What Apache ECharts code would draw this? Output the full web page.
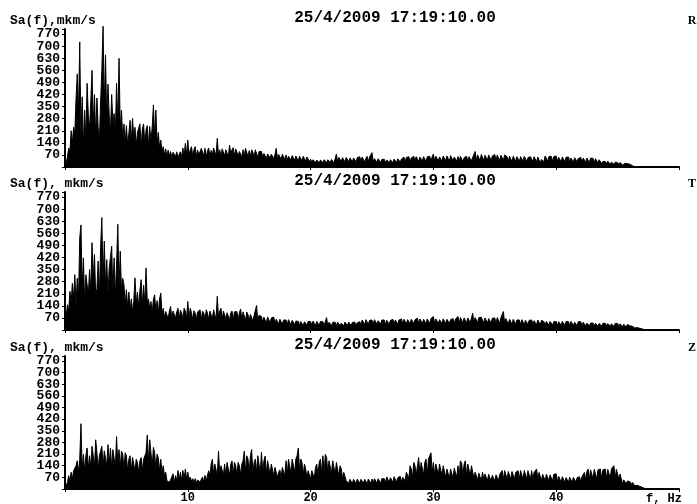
<!DOCTYPE html>
<html>
<head>
<meta charset="utf-8">
<script src="https://cdn.jsdelivr.net/npm/echarts@6.0.0/dist/echarts.min.js"></script>
<style>
  html, body { margin: 0; padding: 0; background: #fff; }
  #chart { width: 697px; height: 504px; }
</style>
</head>
<body>
<div id="chart"></div>
<script>
// шаг по частоте, Гц
const freqStep = 0.1;
const channels = ['R', 'T', 'Z'];
const dateLabel = '25/4/2009 17:19:10.00';
const yTickLabels = [70, 140, 210, 280, 350, 420, 490, 560, 630, 700, 770];
const xTickLabels = [10, 20, 30, 40];

// амплитудные спектры, mkm/s, через 0.1 Гц (строка = 1 Гц)
const rValues = [
  0, 20, 60, 110, 90, 210, 140, 230, 200, 400,
  540, 300, 725, 180, 407, 120, 330, 160, 485, 300,
  220, 380, 560, 250, 420, 180, 400, 230, 150, 380,
  560, 816, 350, 650, 260, 480, 300, 200, 420, 260,
  310, 200, 485, 250, 630, 220, 330, 160, 250, 140,
  240, 130, 195, 270, 150, 282, 170, 230, 120, 200,
  200, 250, 120, 220, 250, 130, 215, 240, 120, 235,
  150, 230, 360, 170, 330, 140, 200, 110, 156, 90,
  118, 70, 105, 60, 98, 65, 90, 55, 85, 95,
  60, 88, 50, 75, 88, 60, 110, 65, 137, 70,
  156, 70, 100, 118, 65, 100, 118, 60, 98, 70,
  62, 108, 100, 65, 108, 60, 92, 110, 60, 96,
  70, 110, 118, 65, 166, 70, 100, 60, 105, 110,
  65, 100, 105, 60, 127, 75, 100, 112, 65, 105,
  108, 65, 90, 98, 60, 100, 62, 108, 98, 60,
  95, 60, 100, 85, 58, 100, 96, 55, 90, 92,
  90, 55, 78, 86, 50, 76, 86, 52, 74, 82,
  50, 72, 108, 48, 72, 68, 45, 74, 72, 42,
  70, 40, 62, 72, 40, 66, 68, 38, 64, 58,
  36, 62, 55, 35, 62, 52, 34, 58, 60, 32,
  45, 28, 42, 46, 26, 40, 45, 25, 40, 48,
  26, 42, 44, 25, 42, 46, 26, 44, 45, 24,
  48, 75, 30, 55, 60, 32, 54, 58, 30, 55,
  62, 30, 52, 60, 32, 52, 62, 30, 54, 58,
  60, 32, 58, 52, 30, 50, 62, 30, 58, 54,
  83, 30, 48, 52, 28, 48, 42, 26, 44, 40,
  45, 25, 40, 48, 26, 42, 40, 25, 46, 42,
  26, 48, 50, 28, 46, 52, 58, 30, 55, 52,
  60, 32, 52, 58, 62, 34, 60, 54, 32, 58,
  52, 34, 60, 54, 32, 60, 58, 62, 34, 60,
  75, 35, 62, 65, 36, 58, 68, 34, 64, 58,
  36, 64, 58, 34, 66, 60, 36, 58, 64, 34,
  60, 34, 62, 58, 32, 54, 58, 62, 34, 60,
  62, 36, 56, 64, 90, 38, 70, 64, 36, 72,
  70, 38, 68, 75, 40, 70, 68, 38, 64, 70,
  72, 38, 70, 66, 36, 68, 64, 38, 70, 62,
  60, 34, 62, 56, 32, 62, 58, 34, 60, 56,
  32, 60, 55, 34, 62, 56, 32, 54, 56, 60,
  58, 32, 60, 52, 30, 58, 54, 25, 44, 52,
  30, 64, 58, 32, 60, 58, 62, 32, 60, 58,
  64, 32, 56, 60, 30, 58, 55, 30, 56, 54,
  58, 30, 52, 56, 28, 54, 52, 30, 50, 52,
  55, 28, 52, 54, 28, 52, 50, 26, 52, 46,
  50, 26, 48, 44, 24, 42, 35, 20, 32, 34,
  32, 18, 34, 28, 16, 28, 26, 16, 28, 26,
  26, 14, 26, 22, 12, 22, 20, 12, 20, 18,
  16, 8, 8, 4, 0
];

const tValues = [
  0, 80, 146, 110, 224, 160, 270, 180, 321, 150,
  300, 180, 535, 609, 250, 418, 160, 320, 263, 200,
  350, 220, 506, 300, 438, 200, 240, 400, 200, 480,
  652, 280, 515, 250, 408, 200, 360, 420, 486, 220,
  418, 200, 380, 613, 250, 457, 220, 300, 263, 150,
  233, 130, 220, 120, 180, 110, 165, 302, 150, 220,
  130, 230, 292, 140, 260, 150, 360, 160, 180, 120,
  165, 100, 180, 204, 110, 170, 100, 180, 214, 90,
  126, 70, 107, 115, 65, 110, 136, 65, 110, 120,
  70, 105, 126, 65, 115, 100, 60, 126, 110, 70,
  165, 70, 126, 100, 60, 112, 98, 62, 105, 100,
  117, 60, 110, 98, 62, 117, 100, 60, 110, 105,
  65, 117, 110, 60, 195, 70, 110, 126, 62, 110,
  117, 65, 100, 110, 60, 98, 110, 62, 105, 110,
  107, 60, 100, 122, 58, 105, 95, 55, 104, 90,
  55, 90, 96, 52, 85, 90, 142, 50, 85, 80,
  78, 45, 74, 72, 42, 76, 80, 40, 70, 68,
  75, 38, 62, 58, 36, 62, 56, 34, 58, 62,
  58, 32, 60, 62, 30, 56, 58, 30, 52, 56,
  50, 28, 49, 46, 26, 48, 49, 28, 50, 48,
  49, 26, 52, 48, 25, 50, 48, 26, 50, 46,
  48, 26, 50, 72, 26, 45, 42, 25, 45, 42,
  45, 24, 46, 44, 24, 40, 45, 24, 46, 44,
  26, 46, 42, 25, 44, 40, 46, 24, 42, 46,
  48, 30, 58, 52, 30, 60, 54, 32, 56, 52,
  58, 32, 60, 56, 32, 54, 60, 34, 58, 56,
  58, 32, 56, 60, 34, 55, 58, 62, 34, 58,
  60, 34, 58, 62, 64, 36, 62, 58, 36, 60,
  64, 36, 62, 66, 38, 60, 64, 68, 38, 64,
  64, 38, 62, 66, 36, 64, 68, 38, 66, 64,
  78, 38, 64, 66, 38, 60, 62, 38, 65, 68,
  38, 62, 66, 38, 60, 64, 66, 38, 64, 66,
  78, 40, 72, 66, 42, 70, 72, 40, 70, 74,
  42, 70, 97, 42, 72, 70, 42, 72, 70, 74,
  72, 40, 70, 74, 40, 66, 70, 40, 68, 70,
  70, 38, 72, 68, 40, 72, 66, 107, 40, 66,
  58, 34, 62, 56, 34, 62, 56, 34, 58, 55,
  58, 32, 60, 58, 32, 56, 58, 32, 56, 58,
  58, 32, 54, 58, 30, 58, 52, 30, 56, 52,
  49, 28, 50, 48, 28, 50, 46, 28, 48, 52,
  49, 28, 48, 50, 27, 50, 48, 26, 49, 46,
  48, 26, 50, 47, 26, 45, 49, 26, 48, 44,
  48, 25, 45, 42, 24, 40, 42, 24, 40, 42,
  40, 23, 39, 41, 22, 38, 40, 22, 39, 38,
  39, 22, 38, 40, 21, 36, 38, 20, 38, 36,
  38, 20, 36, 34, 19, 33, 35, 18, 32, 28,
  24, 14, 22, 18, 12, 16, 14, 8, 10, 8,
  6, 4, 2, 0
];

const zValues = [
  0, 25, 40, 80, 50, 101, 60, 110, 101, 140,
  170, 100, 179, 393, 120, 208, 110, 200, 247, 120,
  200, 130, 257, 200, 130, 296, 220, 120, 200, 230,
  257, 130, 230, 240, 140, 267, 150, 247, 130, 237,
  228, 130, 315, 150, 237, 130, 228, 210, 120, 218,
  200, 110, 179, 200, 110, 190, 200, 110, 179, 160,
  100, 170, 189, 110, 179, 190, 218, 325, 160, 296,
  286, 140, 250, 220, 120, 210, 189, 110, 179, 100,
  140, 80, 101, 50, 62, 40, 55, 45, 91, 40,
  80, 50, 111, 55, 101, 50, 111, 60, 120, 60,
  101, 55, 72, 45, 62, 40, 62, 35, 55, 62,
  40, 58, 72, 40, 82, 45, 82, 110, 80, 150,
  179, 90, 150, 160, 80, 228, 90, 140, 150, 85,
  150, 80, 160, 150, 80, 150, 169, 85, 160, 140,
  80, 160, 140, 85, 150, 170, 228, 100, 200, 180,
  100, 200, 237, 95, 160, 180, 100, 200, 190, 95,
  222, 100, 170, 198, 90, 170, 160, 85, 150, 140,
  80, 130, 130, 70, 101, 115, 65, 130, 140, 80,
  170, 90, 179, 170, 95, 180, 189, 100, 180, 200,
  247, 110, 180, 160, 85, 150, 120, 70, 110, 100,
  60, 110, 110, 65, 130, 150, 80, 160, 180, 95,
  200, 100, 208, 190, 100, 170, 170, 95, 170, 160,
  90, 160, 160, 80, 140, 120, 65, 100, 91, 50,
  62, 35, 58, 62, 34, 58, 62, 32, 60, 58,
  34, 58, 62, 34, 58, 62, 32, 60, 62, 34,
  60, 34, 62, 58, 34, 62, 58, 34, 62, 58,
  62, 38, 72, 66, 40, 68, 72, 40, 74, 72,
  42, 68, 72, 76, 42, 70, 80, 50, 101, 110,
  65, 140, 120, 70, 160, 140, 80, 140, 189, 90,
  160, 170, 85, 160, 180, 90, 180, 200, 218, 100,
  160, 85, 150, 160, 85, 150, 150, 80, 140, 130,
  70, 120, 125, 65, 120, 115, 65, 125, 120, 70,
  140, 75, 169, 155, 80, 150, 169, 80, 150, 140,
  80, 140, 130, 65, 101, 110, 55, 95, 100, 50,
  101, 55, 90, 92, 50, 88, 82, 48, 82, 80,
  48, 85, 82, 50, 88, 95, 111, 55, 111, 105,
  60, 105, 111, 58, 105, 108, 60, 100, 105, 110,
  60, 111, 105, 58, 111, 108, 60, 110, 111, 58,
  111, 60, 100, 110, 120, 62, 100, 91, 52, 88,
  91, 50, 90, 88, 50, 85, 90, 48, 88, 84,
  91, 45, 76, 72, 42, 74, 72, 40, 68, 72,
  42, 70, 68, 40, 70, 74, 42, 68, 70, 74,
  42, 74, 80, 100, 55, 105, 120, 60, 115, 110,
  62, 118, 120, 60, 115, 118, 120, 62, 115, 120,
  120, 62, 118, 125, 64, 122, 115, 140, 65, 118,
  120, 60, 90, 60, 32, 55, 50, 30, 48, 50,
  45, 25, 40, 36, 20, 28, 22, 14, 16, 14,
  10, 6, 3, 0
];

const allValues = [rValues, tValues, zValues];

const chart = echarts.init(document.getElementById('chart'));

const monoFont = '"Liberation Mono", "DejaVu Sans Mono", monospace';
const panelTops = [29, 192, 356];
const panelHeight = 138;

const grids = [], xAxes = [], yAxes = [], series = [], texts = [];

panelTops.forEach((top, i) => {
  grids.push({ left: 65, right: 18, top: top, height: panelHeight });

  const lastPanel = i === panelTops.length - 1;
  xAxes.push({
    type: 'value',
    gridIndex: i,
    min: 0,
    max: 50,
    interval: 10,
    axisLine: { lineStyle: { color: '#000', width: 2 } },
    axisTick: { show: true, length: 3, lineStyle: { color: '#000' } },
    axisLabel: {
      show: lastPanel,
      margin: 3,
      color: '#000',
      fontFamily: monoFont,
      fontWeight: 'bold',
      fontSize: 12,
      formatter: v => (xTickLabels.includes(v) ? String(v) : '')
    },
    splitLine: { show: false }
  });

  yAxes.push({
    type: 'value',
    gridIndex: i,
    min: 0,
    max: 800,
    interval: 70,
    axisLine: { show: true, lineStyle: { color: '#000', width: 2 } },
    axisTick: { show: true, length: 3, lineStyle: { color: '#000' } },
    axisLabel: {
      margin: 5,
      color: '#000',
      fontFamily: monoFont,
      fontWeight: 'bold',
      fontSize: 13,
      formatter: v => (yTickLabels.includes(v) ? String(v) : '')
    },
    splitLine: { show: false }
  });

  series.push({
    type: 'line',
    name: channels[i],
    xAxisIndex: i,
    yAxisIndex: i,
    data: allValues[i].map((v, k) => [+(k * freqStep).toFixed(1), v]),
    showSymbol: false,
    symbol: 'none',
    sampling: 'none',
    clip: false,
    lineStyle: { color: '#000', width: 1 },
    areaStyle: { color: '#000', opacity: 1 }
  });

  const labelY = top - 8;
  texts.push(
    {
      type: 'text',
      style: {
        x: 10, y: labelY, text: i === 0 ? 'Sa(f),mkm/s' : 'Sa(f), mkm/s',
        font: 'bold 13px ' + monoFont, fill: '#000',
        align: 'left', verticalAlign: 'middle'
      }
    },
    {
      type: 'text',
      style: {
        x: 395, y: labelY - 3, text: dateLabel,
        font: 'bold 16px ' + monoFont, fill: '#000',
        align: 'center', verticalAlign: 'middle'
      }
    },
    {
      type: 'text',
      style: {
        x: 692, y: labelY, text: channels[i],
        font: 'bold 12px "Liberation Serif", "DejaVu Serif", serif', fill: '#000',
        align: 'center', verticalAlign: 'middle'
      }
    }
  );
});

texts.push({
  type: 'text',
  style: {
    x: 664, y: 499, text: 'f, Hz',
    font: 'bold 12px ' + monoFont, fill: '#000',
    align: 'center', verticalAlign: 'middle'
  }
});

chart.setOption({
  animation: false,
  backgroundColor: '#fff',
  grid: grids,
  xAxis: xAxes,
  yAxis: yAxes,
  series: series,
  graphic: texts
});
</script>
</body>
</html>
